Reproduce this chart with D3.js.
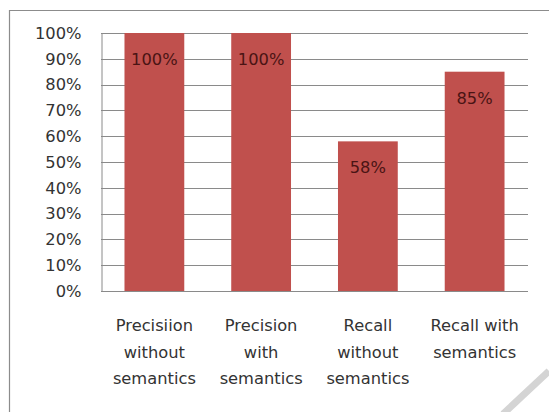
<!DOCTYPE html>
<html><head><meta charset="utf-8">
<script src="https://cdn.jsdelivr.net/npm/d3@7"></script>
<style>html,body{margin:0;padding:0;background:#fff;}svg{display:block;}</style>
</head><body>
<script>
const categories = [
  ["Precisiion", "without", "semantics"],
  ["Precision", "with", "semantics"],
  ["Recall", "without", "semantics"],
  ["Recall with", "semantics"]
];
const values = [1.00, 1.00, 0.58, 0.85];
const dataLabels = ["100%", "100%", "58%", "85%"];
const yTicks = [0, 0.1, 0.2, 0.3, 0.4, 0.5, 0.6, 0.7, 0.8, 0.9, 1.0];

(function () {
const W = 549, H = 412;
const svg = d3.select("body").append("svg").attr("width", W).attr("height", H);
const font = "'DejaVu Sans', Verdana, sans-serif";

// outer chart border
svg.append("path").attr("d", `M9.5,${H} V10.5 H${W}`).attr("fill", "none")
  .attr("stroke", "#8c8c8c").attr("stroke-width", 1.2);

const pLeft = 101, pRight = 528, pTop = 33, pBottom = 291;
const x = d3.scaleBand().domain(d3.range(categories.length)).range([pLeft, pRight]).paddingInner(0.44).paddingOuter(0.22);
const y = d3.scaleLinear().domain([0, 1]).range([pBottom, pTop]);

// gridlines
svg.append("g").selectAll("line").data(yTicks).join("line")
  .attr("x1", pLeft).attr("x2", pRight)
  .attr("y1", d => Math.round(y(d)) + 0.5).attr("y2", d => Math.round(y(d)) + 0.5)
  .attr("stroke", "#8a8a8a").attr("stroke-width", 1);

// y axis
const yAxis = d3.axisLeft(y).tickValues(yTicks).tickFormat(d3.format(".0%")).tickSize(0).tickPadding(20);
const gy = svg.append("g").attr("transform", `translate(${pLeft + 0.5},0)`).call(yAxis);
gy.select(".domain").attr("stroke", "#8a8a8a");
gy.selectAll("text").attr("font-family", font).attr("font-size", "16.3px").attr("fill", "#333");

// bars
svg.append("g").selectAll("rect").data(values).join("rect")
  .attr("x", (d, i) => x(i)).attr("width", x.bandwidth())
  .attr("y", d => y(d)).attr("height", d => pBottom - y(d))
  .attr("fill", "#c0504d");

// data labels
svg.append("g").selectAll("text").data(values).join("text")
  .attr("x", (d, i) => x(i) + x.bandwidth() / 2)
  .attr("y", d => y(d) + 32)
  .attr("text-anchor", "middle")
  .attr("font-family", font).attr("font-size", "16.3px").attr("fill", "#4a1414")
  .text((d, i) => dataLabels[i]);

// category labels
const cg = svg.append("g");
categories.forEach((lines, i) => {
  const t = cg.append("text").attr("text-anchor", "middle")
    .attr("font-family", font).attr("font-size", "16.3px").attr("fill", "#333");
  lines.forEach((ln, j) => {
    t.append("tspan").attr("x", x(i) + x.bandwidth() / 2).attr("y", 331 + j * 26.7).text(ln);
  });
});

// watermark stripe
svg.append("line").attr("x1", 503).attr("y1", 414).attr("x2", 549).attr("y2", 371)
  .attr("stroke", "#d4d4d4").attr("stroke-width", 7);
})();
</script>
</body></html>
